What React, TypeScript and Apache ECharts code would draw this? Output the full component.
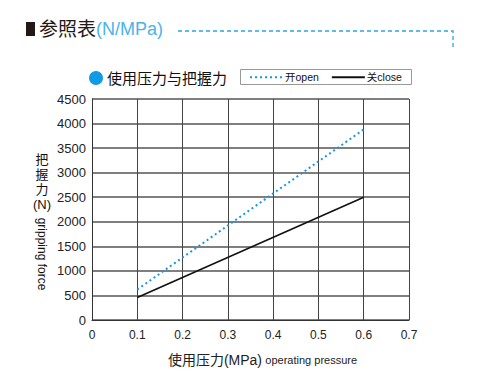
import React, { useEffect, useRef } from "react";
import * as echarts from "echarts";

const pressure = [0.1, 0.6];
const openForce = [620, 3880];
const closeForce = [460, 2500];
const xTicks = [0, 0.1, 0.2, 0.3, 0.4, 0.5, 0.6, 0.7];
const seriesNames = ["开open", "关close"];

const FONT = "'Liberation Sans', 'Noto Sans CJK SC', sans-serif";
const BLUE = "#1897e0";

export default function App() {
  const ref = useRef<HTMLDivElement>(null);
  useEffect(() => {
    const chart = echarts.init(ref.current!, null, { renderer: "svg" });
    chart.setOption({
      animation: false,
      backgroundColor: "#ffffff",
      textStyle: { fontFamily: FONT },
      grid: { left: 92, top: 99, right: 69, bottom: 54 },
      legend: {
        left: 249,
        top: 72,
        padding: 0,
        itemWidth: 33,
        itemHeight: 10,
        itemGap: 12,
        itemStyle: { opacity: 0 },
        textStyle: { fontSize: 10.5, color: "#111", fontFamily: FONT, padding: [0, 0, 0, -3] },
        data: seriesNames,
      },
      xAxis: {
        type: "value",
        min: 0,
        max: 0.7,
        interval: 0.1,
        axisLine: { show: true, lineStyle: { color: "#333", width: 1 } },
        axisTick: { show: false },
        splitLine: { show: true, lineStyle: { color: "#444", width: 1 } },
        axisLabel: {
          color: "#222",
          fontSize: 12,
          margin: 9,
          formatter: (v: number) => {
            const t = xTicks.find((x) => Math.abs(x - v) < 1e-6);
            return t === undefined ? "" : String(t);
          },
        },
        name: "{a|使用压力(MPa)} {b|operating pressure}",
        nameLocation: "middle",
        nameGap: 33,
        nameTextStyle: {
          padding: [0, 0, 0, 24],
          rich: {
            a: { fontSize: 14, color: "#222", fontFamily: FONT },
            b: { fontSize: 11, color: "#222", fontFamily: FONT },
          },
        },
      },
      yAxis: {
        type: "value",
        min: 0,
        max: 4500,
        interval: 500,
        axisLine: { show: true, lineStyle: { color: "#333", width: 1 } },
        axisTick: { show: false },
        splitLine: { show: true, lineStyle: { color: "#555", width: 1.5 } },
        axisLabel: { color: "#222", fontSize: 13, margin: 6, formatter: (v: number) => String(v) },
      },
      series: [
        {
          name: seriesNames[0],
          type: "line",
          data: pressure.map((p, i) => [p, openForce[i]]),
          symbol: "none",
          lineStyle: { color: BLUE, width: 2, type: [2, 3] },
          itemStyle: { color: BLUE },
        },
        {
          name: seriesNames[1],
          type: "line",
          data: pressure.map((p, i) => [p, closeForce[i]]),
          symbol: "none",
          lineStyle: { color: "#111", width: 1.6 },
          itemStyle: { color: "#111" },
        },
      ],
      graphic: [
        { type: "rect", shape: { x: 26, y: 22, width: 9, height: 14 }, style: { fill: "#231815" } },
        {
          type: "text",
          x: 39,
          y: 29,
          style: {
            text: "{a|参照表}{b|(N/MPa)}",
            verticalAlign: "middle",
            rich: {
              a: { fontSize: 19, fill: "#231815", fontFamily: FONT },
              b: { fontSize: 18, fill: "#4cb3ea", fontFamily: FONT },
            },
          },
        },
        {
          type: "polyline",
          shape: { points: [[178, 31], [453, 31], [453, 49]] },
          style: { stroke: "#2aa6e6", lineWidth: 1.3, lineDash: [4, 3], fill: "none" },
        },
        { type: "circle", shape: { cx: 96, cy: 78, r: 7 }, style: { fill: "#109be4" } },
        {
          type: "text",
          x: 107,
          y: 78,
          style: { text: "使用压力与把握力", fontSize: 15, fill: "#111", verticalAlign: "middle", fontFamily: FONT },
        },
        {
          type: "rect",
          z: -1,
          shape: { x: 240.5, y: 69.5, width: 171, height: 15 },
          style: { fill: "#fff", stroke: "#999", lineWidth: 1 },
        },
        {
          type: "text",
          x: 42,
          y: 152,
          style: {
            text: "把\n握\n力\n(N)",
            fontSize: 13,
            lineHeight: 15,
            align: "center",
            fill: "#111",
            fontFamily: FONT,
          },
        },
        {
          type: "text",
          x: 42,
          y: 254,
          rotation: -Math.PI / 2,
          style: {
            text: "gripping force",
            fontSize: 12,
            align: "center",
            verticalAlign: "middle",
            fill: "#111",
            fontFamily: FONT,
          },
        },
      ],
    });
    return () => chart.dispose();
  }, []);
  return <div ref={ref} style={{ width: 478, height: 374, position: "absolute", left: 0, top: 0 }} />;
}
